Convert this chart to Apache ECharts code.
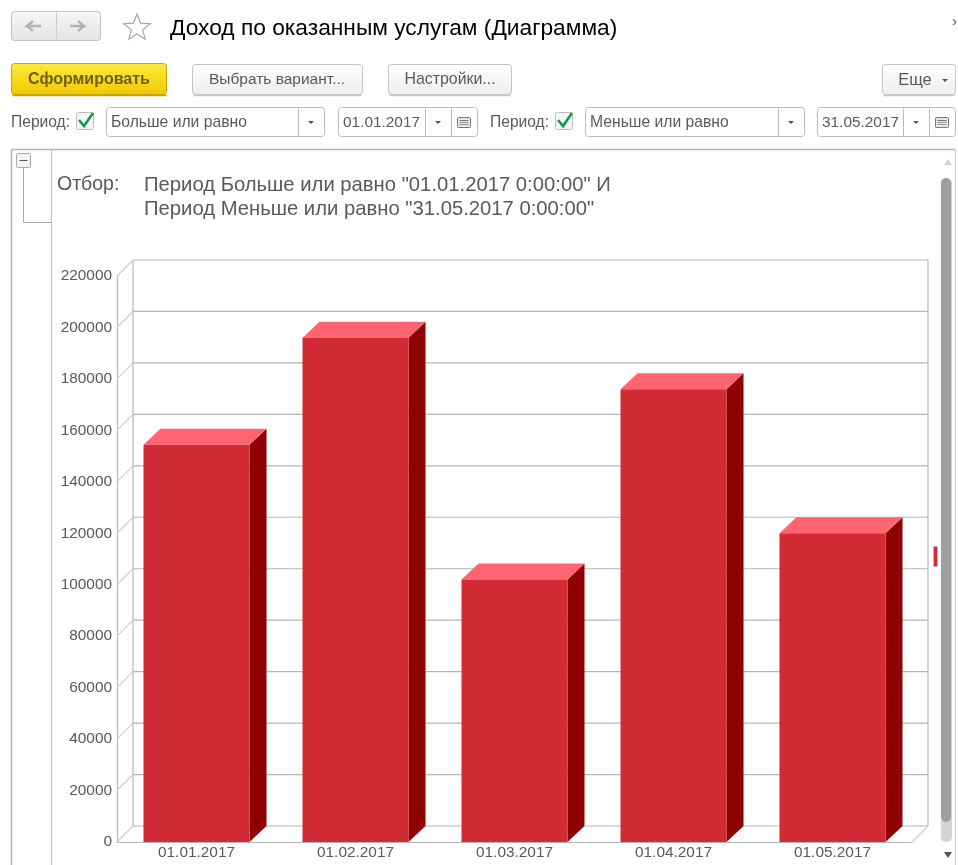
<!DOCTYPE html>
<html><head><meta charset="utf-8">
<style>html,body{margin:0;padding:0;background:#fff}#c{width:958px;height:865px}</style>
<script src="https://cdn.jsdelivr.net/npm/echarts@6/dist/echarts.min.js"></script>
</head><body><div id="c"></div>
<script>
const categories = ['01.01.2017','01.02.2017','01.03.2017','01.04.2017','01.05.2017'];
const revenue = [154400,196000,102000,176000,120000];
const yTicks = [0,20000,40000,60000,80000,100000,120000,140000,160000,180000,200000,220000];
const FONT = '"Liberation Sans", Arial, sans-serif';
const DEPTH = 16;
const GRID_C = '#b6b6b6';
const DIAG_C = '#d0d0d0';

const chart = echarts.init(document.getElementById('c'), null, {renderer:'canvas'});

function frameItem(params, api){
  const v = api.value(0);
  const p = api.coord([0, v]);
  const y = p[1];
  const rect = params.coordSys;
  const x0 = rect.x, x1 = rect.x + rect.width;
  const kids = [
    {type:'line', shape:{x1:x0,y1:y,x2:x0+DEPTH,y2:y-DEPTH}, style:{stroke:DIAG_C, lineWidth:1.2}},
    {type:'line', shape:{x1:x0+DEPTH,y1:y-DEPTH,x2:x1+DEPTH,y2:y-DEPTH}, style:{stroke:GRID_C, lineWidth:1.2}}
  ];
  if (v === 0) {
    const top = rect.y;
    kids.push({type:'line', shape:{x1:x1,y1:y,x2:x1+DEPTH,y2:y-DEPTH}, style:{stroke:DIAG_C, lineWidth:1.2}});
    kids.push({type:'line', shape:{x1:x1+DEPTH,y1:y-DEPTH,x2:x1+DEPTH,y2:top-DEPTH}, style:{stroke:GRID_C, lineWidth:1.2}});
    kids.push({type:'line', shape:{x1:x0+DEPTH,y1:y-DEPTH,x2:x0+DEPTH,y2:top-DEPTH}, style:{stroke:GRID_C, lineWidth:1.2}});
  }
  return {type:'group', children:kids};
}
function barItem(params, api){
  const i = api.value(0);
  const top = api.coord([i, api.value(1)]);
  const base = api.coord([i, 0]);
  const w = api.size([1,0])[0] * 2/3;
  const l = top[0]-w/2, r = top[0]+w/2, t = top[1], b = base[1];
  return {type:'group', children:[
    {type:'polygon', shape:{points:[[r,t],[r+DEPTH+1,t-DEPTH],[r+DEPTH+1,b-DEPTH],[r,b]]}, style:{fill:'#8f0000'}},
    {type:'polygon', shape:{points:[[l,t],[l+DEPTH+1,t-DEPTH],[r+DEPTH+1,t-DEPTH],[r,t]]}, style:{fill:'#ff6470'}},
    {type:'rect', shape:{x:l,y:t,width:w,height:b-t}, style:{fill:'#d12b36'}}
  ]};
}

/* interface chrome */
const TXT='#5a5a5a';
function t(x,y,s,size,color,extra){return {type:'text',x,y:y+1,silent:true,z:20,style:Object.assign({text:s,fontFamily:FONT,fontSize:size,fill:color||TXT,textVerticalAlign:'middle',verticalAlign:'middle'},extra||{})};}
function box(x,y,w,h,fill,stroke,r){return {type:'rect',silent:true,z:10,shape:{x:x+.5,y:y+.5,width:w,height:h,r:r==null?3:r},style:{fill:fill||'#fff',stroke:stroke||'#bdbdbd',lineWidth:1}};}
function ln(x1,y1,x2,y2,c,lw){return {type:'line',silent:true,z:11,shape:{x1:x1+.5,y1:y1+.5,x2:x2+.5,y2:y2+.5},style:{stroke:c||'#bdbdbd',lineWidth:lw||1}};}
function grad(a,b){return new echarts.graphic.LinearGradient(0,0,0,1,[{offset:0,color:a},{offset:1,color:b}]);}
function tri(cx,cy,c){return {type:'polygon',silent:true,z:12,shape:{points:[[cx-3,cy-1],[cx+3,cy-1],[cx,cy+2]]},style:{fill:c||'#555'}};}
function btn(x,w,label,cx,size){return [box(x,64,w,30,grad('#ffffff','#eeeeee'),'#c4c4c4'),ln(x+1,95,x+w-1,95,'#c8c8c8',1.5),t(cx,79,label,size,TXT,{textAlign:'center',align:'center'})];}
function check(x,y){return [box(x,y,17,17,'#f6f6f6','#bdbdbd',2),
  {type:'polyline',silent:true,z:12,shape:{points:[[x+3,y+8],[x+8,y+14],[x+17,y+1]]},style:{stroke:'#0f9d50',lineWidth:2.6,fill:null}}];}
function calendar(x,y){const o=[box(x,y,13,10,'#e6e6e6','#777',1)];
  o.push(ln(x+2,y+3,x+11,y+3,'#777'),ln(x+2,y+5,x+11,y+5,'#999'),ln(x+2,y+7,x+11,y+7,'#999'));return o;}
function filter(lx,cbx,cx,cw,label,dx,dw,date){return [
  t(lx,122,'Период:',15.6),...check(cbx,112),
  box(cx,107,cw,29),ln(cx+cw-26,108,cx+cw-26,136),tri(cx+cw-13,122),t(cx+5,122,label,15.7),
  box(dx,107,dw,29),ln(dx+dw-52,108,dx+dw-52,136),ln(dx+dw-26,108,dx+dw-26,136),tri(dx+dw-39,122),
  t(dx+5,122,date,15.4),...calendar(dx+dw-20,117)];}
function star(cx,cy,R,r){const p=[];for(let i=0;i<10;i++){const a=-Math.PI/2+i*Math.PI/5,q=i%2?r:R;p.push([cx+q*Math.cos(a),cy+q*Math.sin(a)]);}return p;}
function arrow(cx,cy,d){return {type:'polyline',silent:true,z:12,shape:{points:[[cx-7*d,cy],[cx+7*d,cy],[cx+1*d,cy-5],[cx+7*d,cy],[cx+1*d,cy+5]]},style:{stroke:'#b4b4b4',lineWidth:2.4,fill:null}};}

const chrome = [
  box(11,11,89,29,grad('#f6f6f6','#e4e4e4'),'#c4c4c4'),ln(56,12,56,39,'#cccccc'),arrow(34,26,-1),arrow(77,26,1),
  {type:'polygon',silent:true,z:12,shape:{points:star(137,28,14,6)},style:{fill:'#fff',stroke:'#a8a8a8',lineWidth:1.2}},
  t(170,28,'Доход по оказанным услугам (Диаграмма)',22.75,'#000'),
  t(952,21,'›',15,'#555'),
  box(11,63,155,31,grad('#ffea3c','#f0c800'),'#c9a800'),ln(12,95,166,95,'#c0a41c',1.5),
  t(89,79,'Сформировать',16,'#6e5f10',{fontWeight:'bold',textAlign:'center',align:'center'}),
  ...btn(192,170,'Выбрать вариант...',277,15.5),
  ...btn(388,123,'Настройки...',450,15.9),
  ...btn(882,73,'Еще',915,16.5),tri(945,80),
  ...filter(11,76,106,218,'Больше или равно',338,139,'01.01.2017'),
  ...filter(490,555,585,219,'Меньше или равно',817,138,'31.05.2017'),
  ln(11,149,955,149,'#b5b5b5',1.5),ln(11,149,11,865,'#b5b5b5',1.5),ln(955,149,955,865,'#c8c8c8'),ln(51,149,51,865,'#c0c0c0'),
  box(16,153,14,14,'#f4f4f4','#aaa',1),ln(19,160,27,160,'#555'),ln(23,167,23,222,'#aaa'),ln(23,222,51,222,'#aaa'),
  t(57,184,'Отбор:',19.5),
  t(144,184,'Период Больше или равно "01.01.2017 0:00:00" И',20.25),
  t(144,208,'Период Меньше или равно "31.05.2017 0:00:00"',20.25),
  {type:'rect',silent:true,z:10,shape:{x:941,y:178,width:11,height:664,r:5},style:{fill:'#d4d4d4'}},
  {type:'rect',silent:true,z:11,shape:{x:941,y:178,width:10,height:644,r:5},style:{fill:'#a0a0a0'}},
  {type:'polygon',silent:true,z:11,shape:{points:[[944,165],[952,165],[948,159]]},style:{fill:'#cfcfcf'}},
  {type:'polygon',silent:true,z:11,shape:{points:[[944,852],[952,852],[948,858]]},style:{fill:'#555'}},
  {type:'rect',silent:true,z:11,shape:{x:933.5,y:546.5,width:4,height:20},style:{fill:'#d12b36',stroke:'#bbb',lineWidth:1}}
];

chart.setOption({
  animation:false,
  backgroundColor:'#fff',
  graphic:{elements:chrome},
  grid:{left:117,top:276,width:795,height:566,containLabel:false},
  xAxis:{type:'category',data:categories,boundaryGap:true,
    axisLine:{show:true,lineStyle:{color:GRID_C,width:1.2}},axisTick:{show:false},
    axisLabel:{margin:3,fontSize:15.4,color:'#5a5a5a',fontFamily:FONT},splitLine:{show:false}},
  yAxis:{type:'value',min:0,max:220000,interval:20000,
    axisLine:{show:true,lineStyle:{color:GRID_C,width:1.2}},axisTick:{show:false},
    axisLabel:{margin:5,fontSize:15.4,color:'#5a5a5a',fontFamily:FONT,padding:[2,0,0,0],formatter:v=>String(v)},splitLine:{show:false}},
  series:[
    {type:'custom',name:'frame',coordinateSystem:'cartesian2d',data:yTicks.map(v=>[v]),
      encode:{y:0},renderItem:frameItem,silent:true,clip:false,z:1},
    {type:'custom',name:'Доход',coordinateSystem:'cartesian2d',data:revenue.map((v,i)=>[i,v]),
      encode:{x:0,y:1},renderItem:barItem,clip:false,z:2}
  ]
});
</script></body></html>
